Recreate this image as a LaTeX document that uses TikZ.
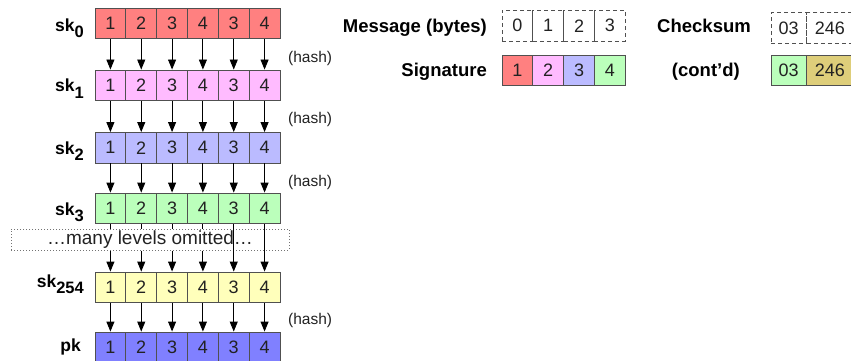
\documentclass[tikz,border=0pt]{standalone}
\usepackage{fontspec}
\setmainfont{Liberation Sans}
\usetikzlibrary{arrows.meta}

\definecolor{edge}{RGB}{80,80,80}
\definecolor{ink}{RGB}{34,34,34}
\definecolor{cRed}{RGB}{255,128,128}
\definecolor{cPink}{RGB}{255,187,255}
\definecolor{cLav}{RGB}{187,187,255}
\definecolor{cGreen}{RGB}{187,255,187}
\definecolor{cYellow}{RGB}{255,255,187}
\definecolor{cBlue}{RGB}{128,128,255}
\definecolor{cOlive}{RGB}{222,206,122}

\tikzset{
  cell/.style={draw=edge, line width=0.9pt, minimum width=30.83pt, minimum height=30.5pt,
    inner sep=0pt, text=ink, font=\fontsize{18}{20}\selectfont},
  blankcell/.style={cell, dash pattern=on 4pt off 3pt},
  keylbl/.style={anchor=base east, inner sep=0pt, font=\fontsize{17.5}{20}\selectfont\bfseries},
  sidelbl/.style={anchor=base east, inner sep=0pt, font=\fontsize{18.5}{20}\selectfont\bfseries},
  hashlbl/.style={anchor=west, inner sep=0pt, text=ink, font=\fontsize{15.5}{18}\selectfont},
  hasharrow/.style={draw=black, line width=0.9pt, -{Triangle[length=10pt,width=8pt]}},
  stub/.style={draw=black, line width=0.9pt},
}

\newcommand{\sklabel}[1]{sk\raisebox{-6pt}{\fontsize{16.5}{18}\selectfont\bfseries #1}}

\begin{document}
\begin{tikzpicture}[x=1pt,y=-1pt]
\useasboundingbox (0,0) rectangle (851,361);

% ---- key chain: one row of six cells per level ----
\foreach \r/\top/\col in {r0/8/cRed, r1/70/cPink, r2/132.5/cLav, r3/193/cGreen, r4/272/cYellow, r5/332/cBlue}{
  \foreach \d [count=\i] in {1,2,3,4,3,4}{
    \node[cell, fill=\col] (\r-\i) at ({95+30.83*(\i-0.5)},{\top+15.25}) {\d};
  }
}

% row labels
\node[keylbl] (l0) at (84,32)  {\sklabel{0}};
\node[keylbl] (l1) at (84,92)  {\sklabel{1}};
\node[keylbl] (l2) at (84,154) {\sklabel{2}};
\node[keylbl] (l3) at (84,215) {\sklabel{3}};
\node[keylbl] (l4) at (84,287) {\sklabel{254}};
\node[keylbl] (l5) at (81,351) {pk};

% hash steps
\foreach \a/\b in {r0/r1, r1/r2, r2/r3, r4/r5}{
  \foreach \i in {1,...,6}{
    \draw[hasharrow] (\a-\i.south) -- (\b-\i.north);
  }
}
\node[hashlbl] (h0) at (288,58)  {(hash)};
\node[hashlbl] (h1) at (288,119) {(hash)};
\node[hashlbl] (h2) at (288,182) {(hash)};
\node[hashlbl] (h3) at (288,320) {(hash)};

% omitted levels
\node[draw=black!55, line width=1pt, dash pattern=on 1pt off 2pt, minimum width=278pt,
      minimum height=21pt, inner sep=0pt, text=ink, font=\fontsize{19}{20}\selectfont]
      (omit) at (150,239.5) {…many levels omitted…};
\foreach \i in {1,...,4}{
  \draw[stub] (r3-\i.south) -- (r3-\i.south |- omit.north);
  \draw[hasharrow] (r4-\i.north |- omit.south) -- (r4-\i.north);
}
\foreach \i in {5,6}{
  \draw[hasharrow] (r3-\i.south) -- (r4-\i.north);
}

% ---- message and signature ----
\node[sidelbl] (msg) at (487,33) {Message (bytes)};
\foreach \d [count=\i] in {0,1,2,3}{
  \node[blankcell] (m-\i) at ({502+30.83*(\i-0.5)},25.75) {\d};
}
\node[sidelbl] (sig) at (487,77) {Signature};
\foreach \d/\col [count=\i] in {1/cRed,2/cPink,3/cLav,4/cGreen}{
  \node[cell, fill=\col] (s-\i) at ({502+30.83*(\i-0.5)},70.5) {\d};
}

% ---- checksum ----
\node[sidelbl] (chk) at (751,33) {Checksum};
\node[blankcell, minimum width=35pt] (c-1) at (788.5,28) {03};
\node[blankcell, minimum width=46pt, anchor=west] (c-2) at (c-1.east) {246};
\node[sidelbl] (cnt) at (740,77) {(cont’d)};
\node[cell, fill=cGreen, minimum width=35pt] (d-1) at (788.5,70.5) {03};
\node[cell, fill=cOlive, minimum width=46pt, anchor=west] (d-2) at (d-1.east) {246};
\end{tikzpicture}
\end{document}
